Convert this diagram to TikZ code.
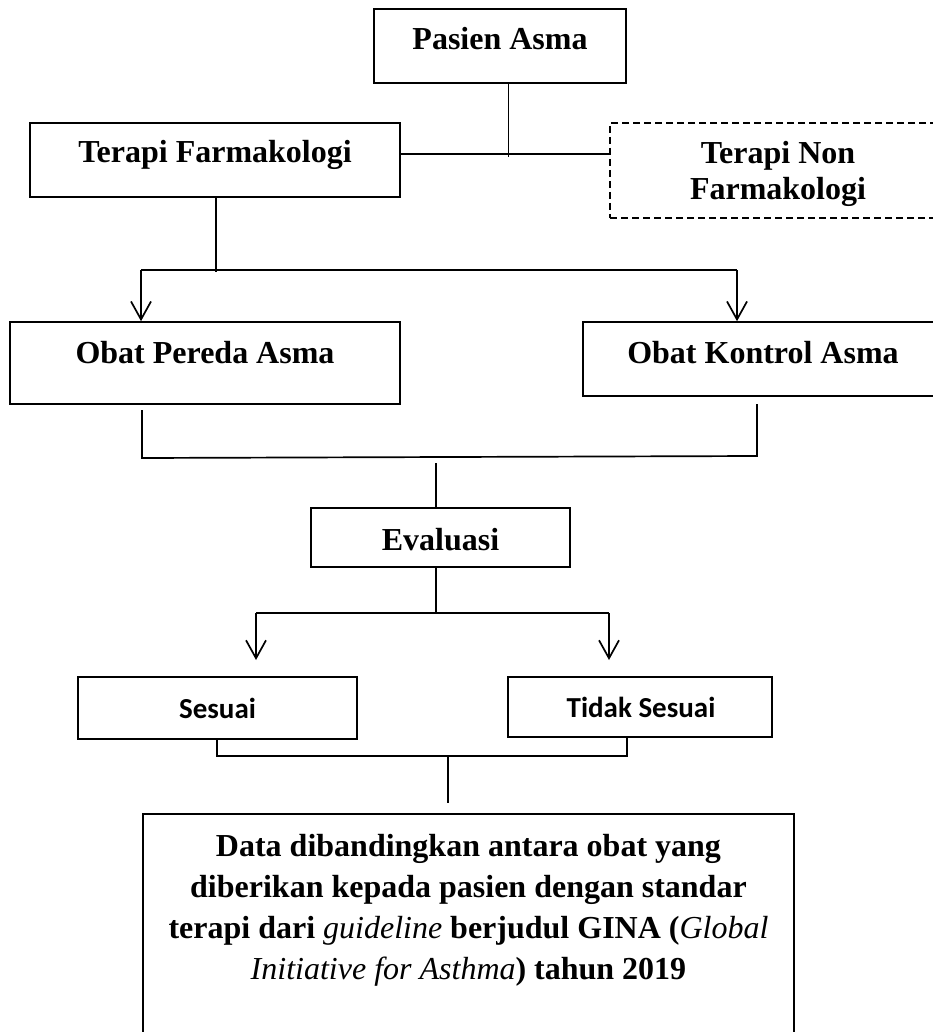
\documentclass[tikz,border=0pt]{standalone}
\usepackage{fontspec}
\setmainfont{Liberation Serif}
\newfontfamily\carlito{Carlito}
\usetikzlibrary{arrows.meta}
\begin{document}
\begin{tikzpicture}[x=1pt,y=-1pt,
  box/.style={draw, line width=1.6pt, inner sep=0pt},
  dbox/.style={draw, line width=1.5pt, inner sep=0pt, dash pattern=on 7pt off 4pt},
  txt/.style={inner sep=0pt, font=\fontsize{32}{36}\selectfont\bfseries},
  ctxt/.style={inner sep=0pt, anchor=base, font=\fontsize{29}{34}\selectfont\carlito\bfseries},
  ln/.style={line width=1.7pt},
  thinln/.style={line width=1pt},
  arr/.style={ln, -{Straight Barb[length=18pt,width=20pt,line width=1.7pt]}}]
\clip (0,0) rectangle (933,1032);
\fill[white] (0,0) rectangle (933,1032);

% boxes
\node[box, minimum width=252pt, minimum height=74pt] (pa) at (500,46) {};
\node[box, minimum width=370pt, minimum height=74pt] (tf) at (215,160) {};
\node[dbox, minimum width=336pt, minimum height=95pt] (tnf) at (778,170.5) {};
\node[box, minimum width=390pt, minimum height=82pt] (op) at (205,363) {};
\node[box, minimum width=360pt, minimum height=74pt] (ok) at (763,359) {};
\node[box, minimum width=259pt, minimum height=59pt] (ev) at (440.5,537.5) {};
\node[box, minimum width=279pt, minimum height=62pt] (se) at (217.5,708) {};
\node[box, minimum width=264pt, minimum height=60pt] (ts) at (640,707) {};
\node[box, minimum width=651pt, minimum height=248pt] (dt) at (468.5,938) {};

% texts
\node[txt, anchor=base] (paT) at (500,50) {Pasien Asma};
\node[txt, anchor=base] (tfT) at (215,163) {Terapi Farmakologi};
\node[txt, anchor=north, align=center] (tnfT) at (778,141) {Terapi Non\\Farmakologi};
\node[txt, anchor=base] (opT) at (205,363) {Obat Pereda Asma};
\node[txt, anchor=base] (okT) at (763,363) {Obat Kontrol Asma};
\node[txt, anchor=base] (evT) at (440.5,550) {Evaluasi};
\node[ctxt] (seT) at (217.5,718) {Sesuai};
\node[ctxt] (tsT) at (641,717) {Tidak Sesuai};
\node[txt, anchor=north, align=center, font=\fontsize{32}{41}\selectfont\bfseries] (dtT) at (468.5,834)
  {Data dibandingkan antara obat yang\\
   diberikan kepada pasien dengan standar\\
   terapi dari {\mdseries\itshape guideline} berjudul GINA ({\mdseries\itshape Global}\\
   {\mdseries\itshape Initiative for Asthma}) tahun 2019};

% junction coordinates
\coordinate (h1) at (508,154);
\coordinate (h1b) at (508,157);
\coordinate (a0) at (216,272);
\coordinate (a1) at (141,270);
\coordinate (a2) at (737,270);
\coordinate (b1) at (142,410);
\coordinate (b2) at (142,458);
\coordinate (b3) at (757,456);
\coordinate (b4) at (757,404);
\coordinate (c1) at (436,463);
\coordinate (c2) at (436,613);
\coordinate (c3) at (256,613);
\coordinate (c4) at (609,613);
\coordinate (c5) at (256,660);
\coordinate (c6) at (609,660);
\coordinate (d1) at (217,756);
\coordinate (d2) at (627,756);
\coordinate (e1) at (448,756);
\coordinate (e2) at (448,803);

% connectors
\draw[thinln] (pa.south -| h1) -- (h1b);
\draw[ln] (tf.east |- h1) -- (tnf.west |- h1);
\draw[ln] (tf.south -| a0) -- (a0);
\draw[ln] (a1) -- (a2);
\draw[arr] (a1) -- (op.north -| a1);
\draw[arr] (a2) -- (ok.north -| a2);
\draw[ln] (b1) -- (b2) -- (b3) -- (b4);
\draw[ln] (c1) -- (ev.north -| c1);
\draw[ln] (ev.south -| c2) -- (c2);
\draw[ln] (c3) -- (c4);
\draw[arr] (c3) -- (c5);
\draw[arr] (c4) -- (c6);
\draw[ln] (se.south -| d1) -- (d1) -- (d2) -- (ts.south -| d2);
\draw[ln] (e1) -- (e2);
\end{tikzpicture}
\end{document}
